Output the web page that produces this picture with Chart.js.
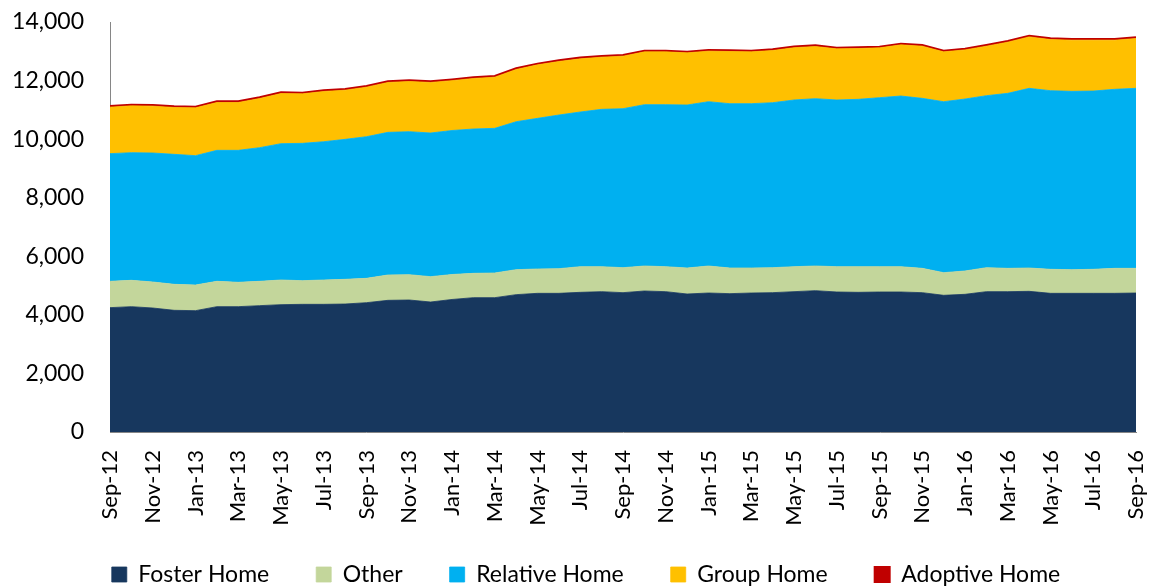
<!DOCTYPE html>
<html>
<head>
<meta charset="utf-8">
<script src="https://cdn.jsdelivr.net/npm/chart.js@4"></script>
<style>
  html, body { margin: 0; padding: 0; background: #ffffff; }
  #wrap { width: 1153px; height: 588px; position: relative; }
</style>
</head>
<body>
<div id="wrap"><canvas id="c" width="1153" height="588"></canvas></div>
<script>
const months = ["Sep-12","Oct-12","Nov-12","Dec-12","Jan-13","Feb-13","Mar-13","Apr-13","May-13","Jun-13","Jul-13","Aug-13",
  "Sep-13","Oct-13","Nov-13","Dec-13","Jan-14","Feb-14","Mar-14","Apr-14","May-14","Jun-14","Jul-14","Aug-14",
  "Sep-14","Oct-14","Nov-14","Dec-14","Jan-15","Feb-15","Mar-15","Apr-15","May-15","Jun-15","Jul-15","Aug-15",
  "Sep-15","Oct-15","Nov-15","Dec-15","Jan-16","Feb-16","Mar-16","Apr-16","May-16","Jun-16","Jul-16","Aug-16","Sep-16"];

const fosterHome = [4246,4280,4234,4155,4143,4280,4280,4314,4348,4359,4359,4370,4416,4496,4507,4439,4525,4587,4587,4690,4735,4735,4769,4792,4758,4815,4792,4712,4746,4724,4746,4758,4792,4826,4781,4769,4781,4781,4758,4667,4701,4792,4792,4803,4735,4735,4735,4735,4746];
const other = [899,899,888,887,876,865,831,831,842,808,831,843,831,865,865,865,853,831,842,853,831,842,876,853,853,853,853,888,922,876,854,853,853,842,864,876,864,864,830,774,797,819,796,797,820,808,820,853,842];
const relativeHome = [4359,4359,4405,4439,4417,4473,4507,4564,4655,4690,4723,4780,4837,4871,4883,4906,4917,4928,4940,5053,5144,5247,5282,5373,5429,5509,5532,5566,5611,5611,5611,5634,5692,5714,5692,5714,5771,5828,5805,5838,5872,5873,5976,6135,6100,6089,6088,6113,6147];
const groupHome = [1588,1599,1599,1599,1633,1633,1633,1678,1713,1690,1714,1679,1691,1703,1714,1725,1703,1725,1747,1782,1827,1827,1815,1781,1793,1803,1803,1780,1725,1781,1769,1781,1785,1780,1746,1735,1701,1746,1781,1701,1678,1690,1747,1757,1746,1747,1736,1678,1701];
const adoptiveHome = [38,40,40,41,40,39,40,41,40,40,42,41,40,40,41,40,40,41,42,40,41,40,42,41,40,41,40,40,41,42,41,40,41,42,40,41,42,40,41,40,41,42,41,40,41,42,40,41,42];

const yTicks = [0,2000,4000,6000,8000,10000,12000,14000];

const FONT = "Lato, 'Liberation Sans', sans-serif";

function area(label, data, color, extra) {
  return Object.assign({
    label: label,
    data: data,
    backgroundColor: color,
    borderColor: color,
    borderWidth: 0.8,
    pointRadius: 0,
    pointHoverRadius: 0,
    tension: 0,
    fill: '-1'
  }, extra || {});
}

// nudge the library legend into the reference position after layout
const legendNudge = {
  id: 'legendNudge',
  afterLayout(chart) {
    const lg = chart.legend;
    if (!lg) return;
    const dx = 14, dy = -16;
    lg.left += dx; lg.right += dx;
    lg.top += dy;
  }
};

new Chart(document.getElementById('c'), {
  type: 'line',
  data: {
    labels: months,
    datasets: [
      area('Foster Home', fosterHome, '#17375E', { fill: 'origin' }),
      area('Other', other, '#C3D69B'),
      area('Relative Home', relativeHome, '#00B0F0'),
      area('Group Home', groupHome, '#FFC000'),
      area('Adoptive Home', adoptiveHome, '#C00000', { borderWidth: 2 })
    ]
  },
  plugins: [legendNudge],
  options: {
    responsive: false,
    animation: false,
    events: [],
    layout: { padding: { left: 8, right: 17, top: 22, bottom: 0 } },
    plugins: {
      tooltip: { enabled: false },
      legend: {
        position: 'bottom',
        maxHeight: 56,
        labels: {
          font: { family: FONT, size: 23 },
          color: '#000000',
          boxWidth: 15,
          boxHeight: 15,
          padding: 47
        }
      }
    },
    scales: {
      x: {
        offset: false,
        grid: { display: true, drawOnChartArea: false, drawTicks: true, tickLength: 16, tickColor: 'rgba(0,0,0,0)' },
        border: { display: true, color: '#868686', width: 1 },
        ticks: {
          autoSkip: false,
          maxRotation: 90,
          minRotation: 90,
          padding: 2,
          color: '#000000',
          font: { family: FONT, size: 22 },
          callback: function (value, index) { return index % 2 === 0 ? months[index] : ''; }
        },
        afterFit: function (scale) { scale.height = 100; scale.paddingRight = 0; scale.paddingLeft = 0; }
      },
      y: {
        stacked: true,
        min: 0,
        max: 14000,
        afterBuildTicks: function (scale) { scale.ticks = yTicks.map(v => ({ value: v })); },
        grid: { display: true, drawOnChartArea: false, drawTicks: true, tickLength: 24, tickColor: 'rgba(0,0,0,0)' },
        border: { display: true, color: '#868686', width: 1 },
        ticks: {
          padding: 2,
          color: '#000000',
          font: { family: FONT, size: 23 },
          callback: function (value) { return Number(value).toLocaleString('en-US'); }
        },
        afterFit: function (scale) { scale.width = 102; }
      }
    }
  }
});
</script>
</body>
</html>
